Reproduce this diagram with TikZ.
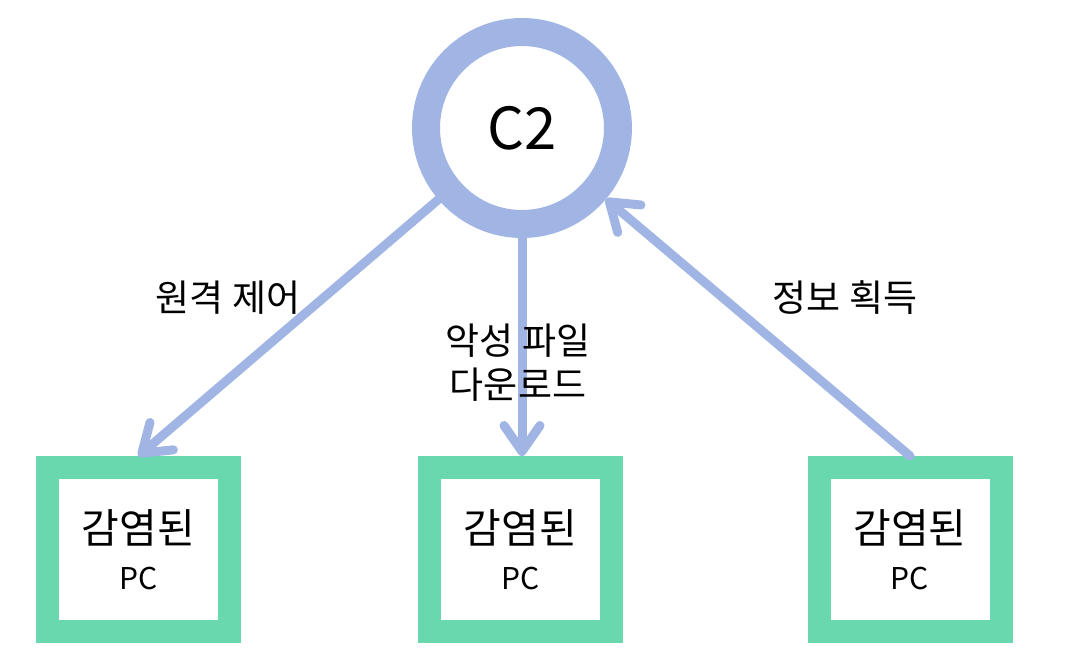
\documentclass[tikz,border=0pt]{standalone}
\usepackage{fontspec}
\setmainfont{Noto Sans CJK KR}
\usetikzlibrary{arrows.meta}

\definecolor{ringblue}{RGB}{160,181,228}
\definecolor{boxgreen}{RGB}{106,216,174}

\begin{document}
\begin{tikzpicture}[x=1pt, y=-1pt,
    server/.style={circle, draw=ringblue, line width=28pt, minimum size=192pt, inner sep=0pt, fill=white},
    pcbox/.style={rectangle, draw=boxgreen, line width=23pt, minimum width=182pt, minimum height=164pt, fill=white, align=center, font=\fontsize{41}{46}\selectfont},
    flow/.style={draw=ringblue, line width=9pt, line cap=round, -{Straight Barb[round, length=26pt, width=36pt]}},
    lbl/.style={font=\fontsize{37}{44}\selectfont, align=center}]
    % --- 1. 틀 ---
    \useasboundingbox (0,0) rectangle (1069,661);

    % --- 2. C2 서버 ---
    \node[server] (c2) at (522,128) {\fontsize{58}{60}\selectfont C2};

    % --- 3. 감염된 PC 세 대 ---
    \node[pcbox] (pcA) at (138.5,549.5) {감염된\\{\fontsize{30}{36}\selectfont PC}};
    \node[pcbox] (pcB) at (520.5,549.5) {감염된\\{\fontsize{30}{36}\selectfont PC}};
    \node[pcbox] (pcC) at (910,549.5) {감염된\\{\fontsize{30}{36}\selectfont PC}};

    % --- 4. 화살표 ---
    \draw[flow] (c2) -- (pcA.north);
    \draw[flow] (c2.south) -- (pcB.north -| c2.south);
    \draw[flow] (pcC.north) -- (c2);

    % --- 5. 라벨 ---
    \node[lbl] (remote) at (228,298) {원격 제어};
    \node[lbl] (download) at (518,363) {악성 파일\\다운로드};
    \node[lbl] (steal) at (845,298) {정보 획득};
\end{tikzpicture}
\end{document}
